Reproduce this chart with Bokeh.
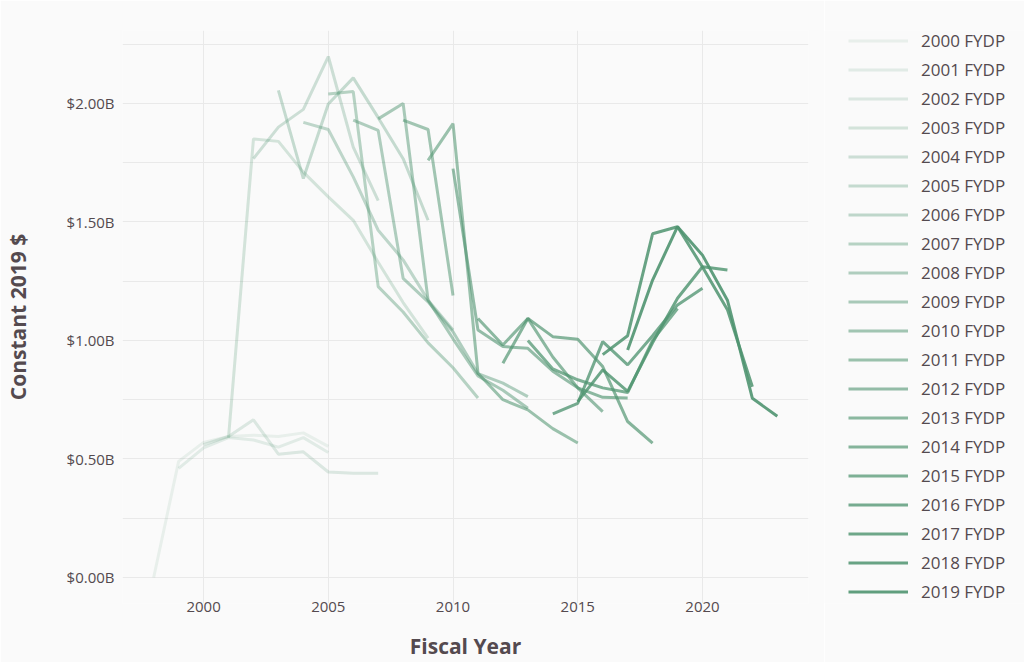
from bokeh.plotting import figure
from bokeh.layouts import row
from bokeh.models import Legend, LegendItem, FixedTicker, Range1d, PrintfTickFormatter
from bokeh.embed import file_html
from bokeh.resources import INLINE

# ---------------- data (constant 2019 $, billions) ----------------
fydp_labels = ["2000 FYDP", "2001 FYDP", "2002 FYDP", "2003 FYDP", "2004 FYDP",
               "2005 FYDP", "2006 FYDP", "2007 FYDP", "2008 FYDP", "2009 FYDP",
               "2010 FYDP", "2011 FYDP", "2012 FYDP", "2013 FYDP", "2014 FYDP",
               "2015 FYDP", "2016 FYDP", "2017 FYDP", "2018 FYDP", "2019 FYDP"]
first_year = [1998, 1999, 2000, 2001, 2002, 2003, 2004, 2005, 2006, 2007,
              2008, 2009, 2010, 2011, 2012, 2013, 2014, 2015, 2016, 2017]

v2000 = [0.00, 0.49, 0.57, 0.595, 0.60, 0.595, 0.61, 0.553]
v2001 = [0.46, 0.547, 0.59, 0.58, 0.55, 0.59, 0.527]
v2002 = [0.56, 0.595, 0.665, 0.52, 0.53, 0.445, 0.44, 0.44]
v2003 = [0.59, 1.85, 1.84, 1.71, 1.606, 1.507, 1.33, 1.16, 1.01]
v2004 = [1.767, 1.90, 1.975, 2.198, 1.816, 1.59]
v2005 = [2.055, 1.683, 1.998, 2.108, 1.94, 1.767, 1.507]
v2006 = [1.92, 1.89, 1.69, 1.465, 1.34, 1.17, 1.044]
v2007 = [2.04, 2.05, 1.227, 1.12, 0.99, 0.885, 0.757]
v2008 = [1.93, 1.886, 1.262, 1.163, 1.037, 0.86, 0.82, 0.763]
v2009 = [1.935, 2.00, 1.17, 1.007, 0.85, 0.79, 0.714]
v2010 = [1.93, 1.89, 1.19]
v2011 = [1.76, 1.915, 0.862, 0.75, 0.707, 0.628, 0.567]
v2012 = [1.725, 1.044, 0.974, 0.967, 0.87, 0.80, 0.70]
v2013 = [1.093, 0.981, 1.093, 0.93, 0.80, 0.76, 0.757]
v2014 = [0.904, 1.093, 1.016, 1.005, 0.89, 0.658, 0.567]
v2015 = [1.00, 0.88, 0.834, 0.80, 0.78, 1.00, 1.135]
v2016 = [0.69, 0.735, 0.995, 0.897, 1.02, 1.15, 1.22]
v2017 = [0.742, 0.876, 0.785, 0.99, 1.178, 1.311, 1.297]
v2018 = [0.94, 1.02, 1.45, 1.48, 1.31, 1.13, 0.805]
v2019 = [0.96, 1.255, 1.48, 1.36, 1.17, 0.756, 0.68]

series = [v2000, v2001, v2002, v2003, v2004, v2005, v2006, v2007, v2008, v2009,
          v2010, v2011, v2012, v2013, v2014, v2015, v2016, v2017, v2018, v2019]

x_ticks = [2000, 2005, 2010, 2015, 2020]
y_ticks = [0.0, 0.5, 1.0, 1.5, 2.0]
y_minor = [0.25, 0.75, 1.25, 1.75, 2.25]

# ---------------- styling ----------------
BG = "#fafafa"
TXT = "#544a4f"
GRID = "#e9e9e9"
LINE = "#4f9470"
FONT = "Open Sans"

p = figure(width=824, height=662,
           x_range=Range1d(1996.75, 2024.25), y_range=Range1d(-0.1099, 2.3078),
           output_backend="svg", toolbar_location=None,
           min_border_left=120, min_border_right=16, min_border_top=30, min_border_bottom=58,
           background_fill_color=BG, border_fill_color=BG, outline_line_color=None)

p.xaxis.ticker = FixedTicker(ticks=x_ticks)
p.yaxis.ticker = FixedTicker(ticks=y_ticks, minor_ticks=y_minor)
p.yaxis.formatter = PrintfTickFormatter(format="$%.2fB")

p.xgrid.grid_line_color = GRID
p.ygrid.grid_line_color = GRID
p.ygrid.minor_grid_line_color = GRID

for ax in (p.xaxis, p.yaxis):
    ax.axis_line_color = None
    ax.major_tick_line_color = None
    ax.minor_tick_line_color = None
    ax.major_tick_out = 0
    ax.major_tick_in = 0
    ax.minor_tick_out = 0
    ax.minor_tick_in = 0
    ax.major_label_text_font = FONT
    ax.major_label_text_font_size = "15px"
    ax.major_label_text_color = TXT
    ax.axis_label_text_font = FONT
    ax.axis_label_text_font_size = "21px"
    ax.axis_label_text_font_style = "bold"
    ax.axis_label_text_color = TXT

p.xaxis.axis_label = "Fiscal Year"
p.yaxis.axis_label = "Constant 2019 $"
p.xaxis.major_label_standoff = -2
p.xaxis.axis_label_standoff = 17
p.yaxis.major_label_standoff = 8
p.yaxis.axis_label_standoff = 32

n = len(series)
alphas = [0.10 + 0.80 * i / (n - 1) for i in range(n)]
for i, (start, vals) in enumerate(zip(first_year, series)):
    xs = list(range(start, start + len(vals)))
    p.line(xs, vals, line_color=LINE, line_alpha=alphas[i], line_width=3)

# ---------------- legend panel ----------------
lg = figure(width=200, height=662, x_range=Range1d(0, 1), y_range=Range1d(0, 1),
            output_backend="svg", toolbar_location=None,
            min_border=0, background_fill_color=BG, border_fill_color=BG,
            outline_line_color=None)
lg.axis.visible = False
lg.grid.visible = False

# key renderers for the legend: each series' own first point, placed far outside the
# visible (0..1) range of this legend-only panel, so only the legend glyph shows
items = []
for i, (lab, start, vals) in enumerate(zip(fydp_labels, first_year, series)):
    r = lg.line([start], [vals[0] + 10], line_color=LINE, line_alpha=alphas[i], line_width=3)
    items.append(LegendItem(label=lab, renderers=[r]))

legend = Legend(items=items, location=(24, 0), orientation="vertical",
                glyph_width=60, glyph_height=23, label_height=23, spacing=6,
                padding=0, margin=0, label_standoff=13,
                border_line_color=None, background_fill_alpha=0,
                label_text_font=FONT, label_text_font_size="17px",
                label_text_color=TXT)
lg.add_layout(legend)

layout = row(p, lg)
open("out.html", "w").write(file_html(layout, INLINE))
